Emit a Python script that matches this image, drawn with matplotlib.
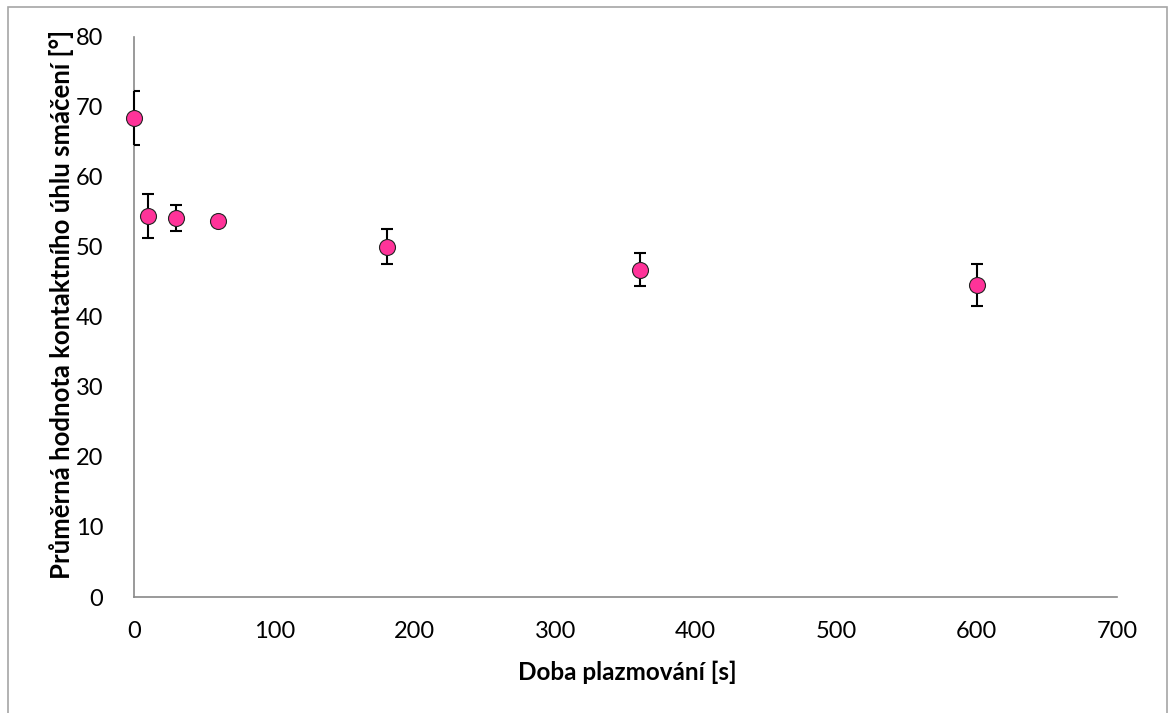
import matplotlib
matplotlib.use("Agg")
import matplotlib.pyplot as plt
from matplotlib.patches import Rectangle

# Data
time_s = [0, 10, 30, 60, 180, 360, 600]
angle_deg = [68.4, 54.4, 54.1, 53.7, 50.0, 46.7, 44.6]
angle_err = [3.9, 3.2, 1.9, 0.3, 2.5, 2.35, 3.0]

x_ticks = [0, 100, 200, 300, 400, 500, 600, 700]
y_ticks = [0, 10, 20, 30, 40, 50, 60, 70, 80]
x_label = "Doba plazmování [s]"
y_label = "Průměrná hodnota kontaktního úhlu smáčení [°]"

plt.rcParams['font.family'] = ['Lato', 'DejaVu Sans']

W, H = 1168, 713
fig = plt.figure(figsize=(W / 100, H / 100), dpi=100)
fig.patches.append(Rectangle((8 / W, -0.05), (1167 - 8) / W, 1.05 - 7 / H,
                             transform=fig.transFigure, fill=False,
                             edgecolor='#a6a6a6', linewidth=1.2))

ax = fig.add_axes([134 / W, 1 - 597 / H, (1117 - 134) / W, (597 - 36.7) / H])

eb = ax.errorbar(time_s, angle_deg, yerr=angle_err, fmt='none', ecolor='black',
                 elinewidth=1.5, capsize=4, capthick=1.5, zorder=3)
for coll in eb[2]:
    coll.set_clip_on(False)
    coll.set_zorder(3)
for cap in eb[1]:
    cap.set_zorder(3)
ax.plot(time_s, angle_deg, linestyle='none', marker='o', markersize=11.5,
        markerfacecolor='#ff3399', markeredgecolor='#222222',
        markeredgewidth=0.8, clip_on=False, zorder=4)

ax.set_xlim(0, 700)
ax.set_ylim(0, 80)
ax.set_xticks(x_ticks)
ax.set_yticks(y_ticks)
ax.tick_params(axis='both', length=0, labelsize=17, colors='black')
ax.tick_params(axis='y', pad=22)
ax.tick_params(axis='x', pad=17)

for s in ['top', 'right']:
    ax.spines[s].set_visible(False)
for s in ['left', 'bottom']:
    ax.spines[s].set_color('#898989')
    ax.spines[s].set_linewidth(1.2)

ax.set_xlabel(x_label, fontsize=17.5, fontweight='bold')
ax.set_ylabel(y_label, fontsize=18.5, fontweight='bold')
ax.xaxis.set_label_coords(0.502, -0.134)
ax.xaxis.label.set_va('center')
ax.yaxis.set_label_coords(-0.074, 0.522)
ax.yaxis.label.set_va('center')

fig.savefig('out.png', dpi=100)
